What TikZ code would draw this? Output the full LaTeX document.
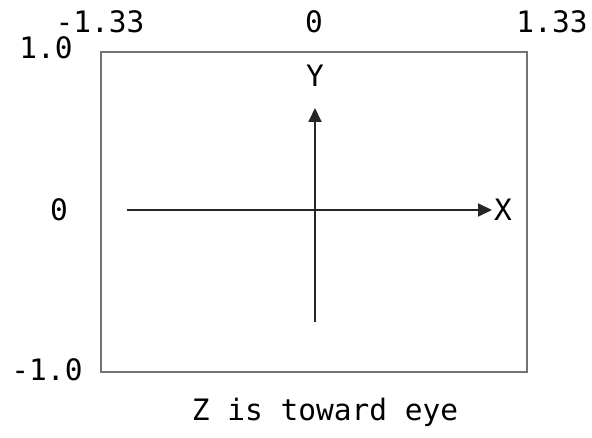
\documentclass[tikz,border=0pt]{standalone}
\usepackage{fontspec}
\setmonofont{DejaVu Sans Mono}
\usetikzlibrary{arrows.meta}

\begin{document}
\begin{tikzpicture}[x=1pt,y=1pt]
\path[use as bounding box] (0,0) rectangle (592,438);
\tikzset{lbl/.style={inner sep=0pt,font=\ttfamily\fontsize{29.5}{32}\selectfont},
  axis/.style={black!85,line width=1.8pt,-{Triangle[length=14pt,width=13pt]}}}
\draw[black!55,line width=2.2pt] (101,386) rectangle (527,66);
\coordinate (xstart) at (127,228);
\coordinate (xend) at (492,228);
\coordinate (ystart) at (315,116);
\coordinate (yend) at (315,330);
\draw[axis] (xstart) -- (xend);
\draw[axis] (ystart) -- (yend);
\node[lbl] (xlab) at (503,228) {X};
\node[lbl] (ylab) at (315,362) {Y};
\node[lbl] (topleft) at (100,416) {-1.33};
\node[lbl] (topmid) at (314,416) {0};
\node[lbl] (topright) at (552,416) {1.33};
\node[lbl] (lefttop) at (46,390) {1.0};
\node[lbl] (leftmid) at (59,228) {0};
\node[lbl] (leftbot) at (47,68) {-1.0};
\node[lbl] (zlab) at (325,26) {Z is toward eye};
\end{tikzpicture}
\end{document}
